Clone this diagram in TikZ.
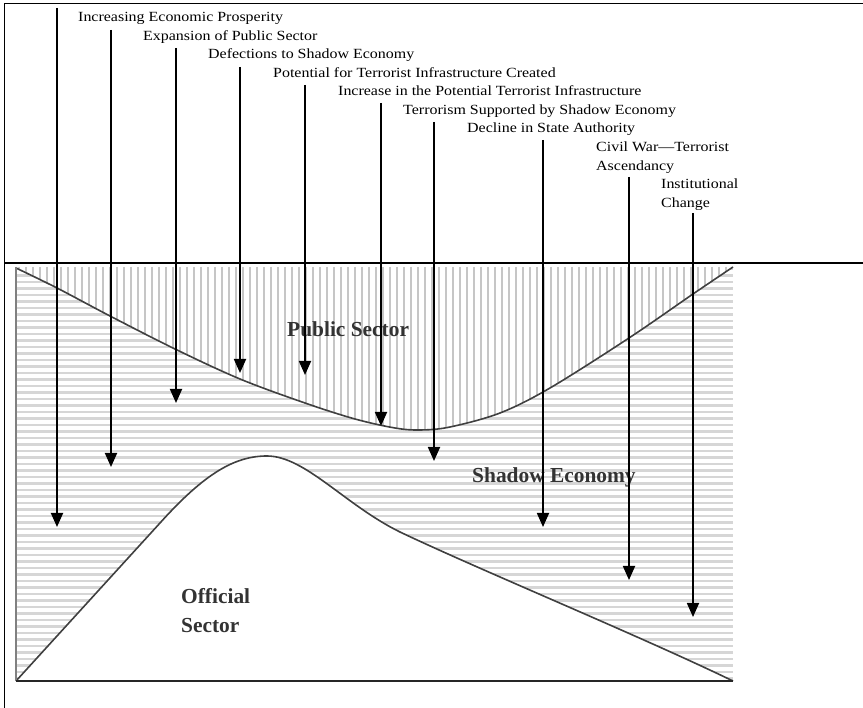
\documentclass[tikz,border=0pt]{standalone}
\usepackage{fontspec}
\setmainfont{Liberation Serif}
\newfontfamily\lblfont[FakeStretch=1.14]{Liberation Serif}
\usetikzlibrary{arrows.meta}
\definecolor{hatchv}{HTML}{C6C6C6}
\definecolor{hatchh}{HTML}{D6D6D6}
\definecolor{curve}{HTML}{404040}
\definecolor{sectortext}{HTML}{333333}
\tikzset{
  stagelabel/.style={anchor=base west, inner sep=0pt, font=\lblfont\fontsize{14}{18.5}\selectfont, align=left},
  sectorlabel/.style={anchor=base west, inner sep=0pt, text=sectortext, font=\bfseries\fontsize{21.4}{29}\selectfont, align=left},
  flow/.style={line width=1.8pt, -{Triangle[width=12pt,length=14pt]}},
  frameline/.style={line width=1pt},
  boundary/.style={draw=curve, line width=1.6pt},
}
\begin{document}
\begin{tikzpicture}[x=1pt,y=-1pt]
\useasboundingbox (0,0) rectangle (863,708);

% background: shadow economy (horizontal hatching) over the whole chart area
\begin{scope}
  \clip (16,267) rectangle (733,681);
  \foreach \yy in {269,275.5,...,682} {
    \draw[hatchh, line width=2.2pt] (16,\yy) -- (733,\yy);
  }
\end{scope}

% public sector: vertical hatching above the upper curve
\begin{scope}
  \clip (16,267) -- plot[smooth, tension=0.55] coordinates {(16,268) (57,288) (110,316) (175,349) (240,379) (305,403) (355,419) (395,428) (420,430) (450,427) (500,413) (550,388) (629,338) (693,294) (733,267)} -- cycle;
  \fill[white] (16,267) rectangle (733,440);
  \foreach \xx in {19,26,...,733} {
    \draw[hatchv, line width=2.4pt] (\xx,267) -- (\xx,440);
  }
\end{scope}

% official sector: plain white below the lower curve
\fill[white] (16,681) -- (160,523) .. controls (205,473) and (235,456) .. (267,456)
  .. controls (305,456) and (345,505) .. (400,532)
  .. controls (480,570) and (640,636) .. (733,681) -- cycle;

% sector boundaries
\draw[boundary] plot[smooth, tension=0.55] coordinates {(16,268) (57,288) (110,316) (175,349) (240,379) (305,403) (355,419) (395,428) (420,430) (450,427) (500,413) (550,388) (629,338) (693,294) (733,267)};
\draw[boundary] (16,681) -- (160,523) .. controls (205,473) and (235,456) .. (267,456)
  .. controls (305,456) and (345,505) .. (400,532)
  .. controls (480,570) and (640,636) .. (733,681);
\draw[draw=gray, line width=1.6pt] (16,267) -- (16,681);
\draw[draw=black!85, line width=1.6pt] (16,681) -- (733,681);

% table rules
\coordinate (tl) at (4,4);
\coordinate (tr) at (863,4);
\coordinate (bl) at (4,708);
\coordinate (ml) at (4,263);
\coordinate (mr) at (863,263);
\draw[frameline] (tr) -- (tl) -- (bl);
\draw[line width=2pt] (ml) -- (mr);

% sector names
\node[sectorlabel] (pub) at (287,337) {Public Sector};
\node[sectorlabel] (shadow) at (472,483) {Shadow Economy};
\node[sectorlabel] (official) at (181,633) {Official\\Sector};

% stage labels (multi-line ones are placed by their last baseline)
\node[stagelabel] (l1) at (78,22) {Increasing Economic Prosperity};
\node[stagelabel] (l2) at (143,40.5) {Expansion of Public Sector};
\node[stagelabel] (l3) at (208,59) {Defections to Shadow Economy};
\node[stagelabel] (l4) at (273,77.5) {Potential for Terrorist Infrastructure Created};
\node[stagelabel] (l5) at (338,96) {Increase in the Potential Terrorist Infrastructure};
\node[stagelabel] (l6) at (403,114.5) {Terrorism Supported by Shadow Economy};
\node[stagelabel] (l7) at (467,133) {Decline in State Authority};
\node[stagelabel] (l8) at (596,170.5) {Civil War—Terrorist\\Ascendancy};
\node[stagelabel] (l9) at (661,207.5) {Institutional\\Change};

% stage arrows
\coordinate (s1) at (57,8);     \coordinate (t1) at (57,527);
\coordinate (s2) at (111,30);   \coordinate (t2) at (111,467);
\coordinate (s3) at (176,48);   \coordinate (t3) at (176,403);
\coordinate (s4) at (240,67);   \coordinate (t4) at (240,373);
\coordinate (s5) at (305,85);   \coordinate (t5) at (305,375);
\coordinate (s6) at (381,103);  \coordinate (t6) at (381,426);
\coordinate (s7) at (434,122);  \coordinate (t7) at (434,461);
\coordinate (s8) at (543,140);  \coordinate (t8) at (543,527);
\coordinate (s9) at (629,177);  \coordinate (t9) at (629,580);
\coordinate (s10) at (693,213); \coordinate (t10) at (693,617);
\foreach \i in {1,...,10} {
  \draw[flow] (s\i) -- (t\i);
}
\end{tikzpicture}
\end{document}
